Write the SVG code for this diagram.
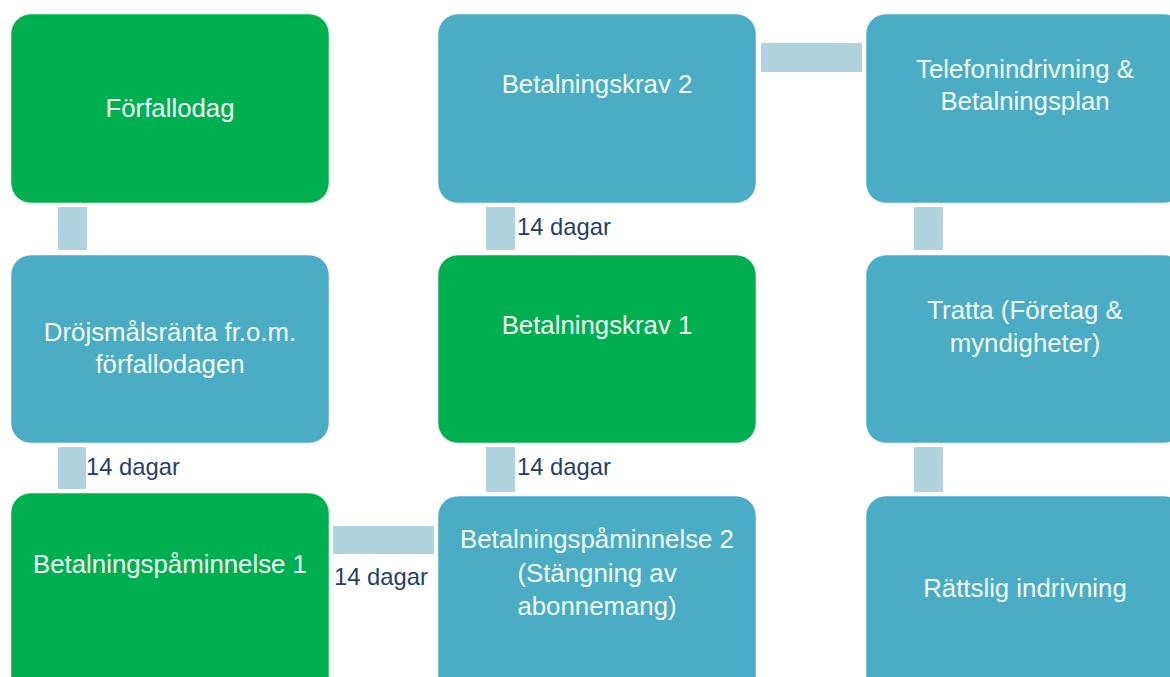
<svg xmlns="http://www.w3.org/2000/svg" width="1170" height="677" viewBox="0 0 1170 677">
<style>
.g{fill:#00B050}
.b{fill:#4BACC6}
.n rect{stroke:#ffffff;stroke-opacity:0.5;stroke-width:1}
.t{font-family:"Liberation Sans",Arial,sans-serif;font-size:25.8px;fill:#F2FBF6;text-anchor:middle}
.c{fill:#B1D3DF}
.d{font-family:"Liberation Sans",Arial,sans-serif;font-size:23.8px;fill:#243F6E}
</style>
<rect width="1170" height="677" fill="#ffffff"/>
<g id="connectors">
<rect class="c" x="58" y="207" width="29" height="43"/>
<rect class="c" x="58" y="447" width="28" height="42"/>
<rect class="c" x="333" y="526" width="101" height="28"/>
<rect class="c" x="486" y="447" width="29" height="45"/>
<rect class="c" x="486" y="207" width="29" height="43"/>
<rect class="c" x="761" y="43" width="101" height="29"/>
<rect class="c" x="914" y="207" width="29" height="43"/>
<rect class="c" x="914" y="447" width="29" height="45"/>
<text class="d" x="86" y="475">14 dagar</text>
<text class="d" x="334" y="585">14 dagar</text>
<text class="d" x="517" y="475">14 dagar</text>
<text class="d" x="517" y="235">14 dagar</text>
</g>
<g id="n1" class="n"><rect class="g" x="11" y="14" width="318" height="189" rx="20"/><text class="t" x="170" y="117">Förfallodag</text></g>
<g id="n2" class="n"><rect class="b" x="11" y="255" width="318" height="188" rx="20"/><text class="t" x="170" y="341">Dröjsmålsränta fr.o.m.</text><text class="t" x="170" y="373">förfallodagen</text></g>
<g id="n3" class="n"><rect class="g" x="11" y="493" width="318" height="210" rx="20"/><text class="t" x="170" y="573">Betalningspåminnelse 1</text></g>
<g id="n4" class="n"><rect class="b" x="438" y="496" width="318" height="210" rx="20"/><text class="t" x="597" y="548">Betalningspåminnelse 2</text><text class="t" x="597" y="582">(Stängning av</text><text class="t" x="597" y="615">abonnemang)</text></g>
<g id="n5" class="n"><rect class="g" x="438" y="255" width="318" height="188" rx="20"/><text class="t" x="597" y="334">Betalningskrav 1</text></g>
<g id="n6" class="n"><rect class="b" x="438" y="14" width="318" height="189" rx="20"/><text class="t" x="597" y="93">Betalningskrav 2</text></g>
<g id="n7" class="n"><rect class="b" x="866" y="14" width="318" height="189" rx="20"/><text class="t" x="1025" y="78">Telefonindrivning &amp;</text><text class="t" x="1025" y="110">Betalningsplan</text></g>
<g id="n8" class="n"><rect class="b" x="866" y="255" width="318" height="188" rx="20"/><text class="t" x="1025" y="319">Tratta (Företag &amp;</text><text class="t" x="1025" y="352">myndigheter)</text></g>
<g id="n9" class="n"><rect class="b" x="866" y="496" width="318" height="210" rx="20"/><text class="t" x="1025" y="597">Rättslig indrivning</text></g>
</svg>
